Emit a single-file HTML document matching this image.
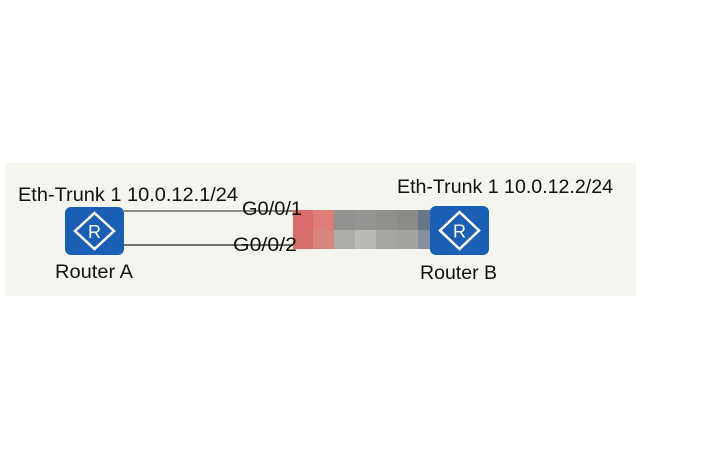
<!DOCTYPE html>
<html><head><style>
html,body{margin:0;padding:0;background:#fff;width:708px;height:467px;overflow:hidden}
</style></head><body>
<svg width="708" height="467" viewBox="0 0 708 467" xmlns="http://www.w3.org/2000/svg" font-family="Liberation Sans, sans-serif" font-size="19" fill="#111">
<rect x="5" y="163" width="631" height="133" fill="#f5f5ef"/>
<line x1="124" y1="211" x2="300" y2="211" stroke="#666" stroke-width="1.5"/>
<line x1="124" y1="245" x2="300" y2="245" stroke="#444" stroke-width="1.5"/>
<g>
<rect x="293" y="210" width="20" height="20" fill="#d96b6a"/>
<rect x="293" y="230" width="20" height="19" fill="#d56e6b"/>
<rect x="313" y="210" width="21" height="20" fill="#de7e7b"/>
<rect x="313" y="230" width="21" height="19" fill="#d98580"/>
<rect x="334" y="210" width="21" height="20" fill="#929290"/>
<rect x="334" y="230" width="21" height="19" fill="#acaca8"/>
<rect x="355" y="210" width="21" height="20" fill="#959593"/>
<rect x="355" y="230" width="21" height="19" fill="#bbbbb6"/>
<rect x="376" y="210" width="21" height="20" fill="#8f8f8c"/>
<rect x="376" y="230" width="21" height="19" fill="#a6a6a2"/>
<rect x="397" y="210" width="21" height="20" fill="#8a8a87"/>
<rect x="397" y="230" width="21" height="19" fill="#a3a39f"/>
<rect x="418" y="210" width="16" height="20" fill="#6c7689"/>
<rect x="418" y="230" width="16" height="19" fill="#8790a0"/>
</g>
<g>
<rect x="65" y="207" width="59" height="48" rx="6" fill="#1a5fb4"/>
<polygon points="94.5,213 114,231 94.5,249 75,231" fill="none" stroke="#fff" stroke-width="2.5"/>
<text x="94.5" y="238" font-size="18" fill="#fff" text-anchor="middle">R</text>
</g>
<g>
<rect x="430" y="206" width="59" height="49" rx="6" fill="#1a5fb4"/>
<polygon points="459.5,212 479,230.5 459.5,249 440,230.5" fill="none" stroke="#fff" stroke-width="2.5"/>
<text x="459.5" y="237.5" font-size="18" fill="#fff" text-anchor="middle">R</text>
</g>
<text x="18" y="201" textLength="220" lengthAdjust="spacingAndGlyphs">Eth-Trunk 1 10.0.12.1/24</text>
<text x="397" y="193" textLength="216" lengthAdjust="spacingAndGlyphs">Eth-Trunk 1 10.0.12.2/24</text>
<text x="242" y="215" textLength="60" lengthAdjust="spacingAndGlyphs">G0/0/1</text>
<text x="233" y="251" textLength="64" lengthAdjust="spacingAndGlyphs">G0/0/2</text>
<text x="55" y="278" textLength="78" lengthAdjust="spacingAndGlyphs">Router A</text>
<text x="420" y="279" textLength="77" lengthAdjust="spacingAndGlyphs">Router B</text>
</svg>
</body></html>
